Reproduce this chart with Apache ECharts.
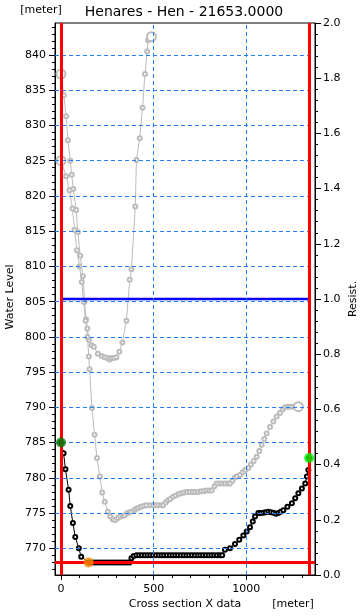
<!DOCTYPE html>
<html><head><meta charset="utf-8">
<script src="https://cdn.jsdelivr.net/npm/echarts@6/dist/echarts.min.js"></script>
<style>html,body{margin:0;padding:0;background:#fff}#c{width:361px;height:616px}</style>
</head><body><div id="c"></div>
<script>
// ---- ticks ----
const xTicks = [0, 500, 1000];
const xMinorTicks = [100, 200, 300, 400, 600, 700, 800, 900, 1100, 1200, 1300];
const yTicks = [770, 775, 780, 785, 790, 795, 800, 805, 810, 815, 820, 825, 830, 835, 840];
const yMinorTicks = [767, 768, 769, 771, 772, 773, 774, 776, 777, 778, 779, 781, 782, 783, 784,
  786, 787, 788, 789, 791, 792, 793, 794, 796, 797, 798, 799, 801, 802, 803, 804, 806, 807, 808, 809,
  811, 812, 813, 814, 816, 817, 818, 819, 821, 822, 823, 824, 826, 827, 828, 829, 831, 832, 833, 834,
  836, 837, 838, 839, 841, 842, 843, 844];
const xGridLines = [500, 1000];

// ---- data: [x (m), water level (m)] ----
const greyA = [[0,837.3],[15,834.3],[28,831.3],[37,827.9],[50,825.0],[58,823.0],[66,821.0],[82,818.0],
  [91,814.9],[104,811.5],[118,808.6],[127,805.0],[135,802.5],[142,801.2],[150,799.6],[165,798.8],
  [177,798.6],[199,797.6],[220,797.3],[235,797.1],[250,797.0],[262,796.8],[272,797.0],[285,797.0],
  [299,797.1],[315,797.9],[331,799.2],[353,802.3],[371,808.1],[380,809.6],[401,818.5],[407,825.1],
  [425,828.2],[440,832.5],[453,837.3],[465,840.5],[470,842.1],[478,842.4],[488,842.6]];
const greyB = [[0,825.0],[28,822.8],[46,820.8],[62,818.2],[73,815.2],[86,812.3],[100,810.0],[112,807.8],
  [122,805.0],[133,802.3],[143,800.0],[150,797.2],
  [154,795.4],[167,789.9],[181,786.1],[194,782.8],[210,780.2],[222,777.9],[236,776.6],[253,775.2],
  [266,774.5],[280,774.1],[293,774.0],[307,774.3],[320,774.5],[334,774.6],[344,774.7],[358,775.0],
  [370,775.1],[380,775.2],[395,775.4],[405,775.6],[416,775.7],[430,775.9],[445,776.0],[460,776.1],
  [479,776.1],[495,776.1],[510,776.1],[525,776.1],[540,776.1],[551,776.1],[565,776.5],[578,776.8],
  [590,777.0],[605,777.3],[620,777.5],[635,777.7],[650,777.8],[665,777.9],[680,778.0],[695,778.0],
  [710,778.0],[725,778.0],[740,778.0],[755,778.1],[770,778.1],[785,778.2],[800,778.2],[813,778.2],
  [828,778.8],[840,779.2],[855,779.2],[870,779.2],[885,779.2],[900,779.2],[912,779.2],[925,779.6],
  [937,780.0],[948,780.2],[966,780.4],[980,780.8],[995,781.1],[1011,781.4],[1025,781.9],[1040,782.4],
  [1056,783.0],[1070,783.8],[1083,784.7],[1097,785.5],[1110,786.3],[1128,787.2],[1146,788.0],
  [1164,788.7],[1182,789.2],[1196,789.7],[1209,790.0],[1222,790.1],[1236,790.1],[1250,790.1],
  [1264,790.1],[1281,790.1]];
const bed = [[0,785.0],[14,783.5],[24,781.2],[41,778.3],[50,776.0],[64,773.6],[77,771.6],[96,770.0],
  [109,768.8],[149,768.0],[160,768.0],[175,768.0],[190,768.0],[205,768.0],[220,768.0],[235,768.0],
  [250,768.0],[265,768.0],[280,768.0],[295,768.0],[310,768.0],[325,768.0],[340,768.0],[355,768.0],
  [370,768.0],[380,768.6],[392,768.9],[407,769.0],[422,769.0],[437,769.0],[452,769.0],[467,769.0],
  [482,769.0],[497,769.0],[512,769.0],[527,769.0],[542,769.0],[557,769.0],[572,769.0],[587,769.0],
  [602,769.0],[617,769.0],[632,769.0],[647,769.0],[662,769.0],[677,769.0],[692,769.0],[707,769.0],
  [722,769.0],[737,769.0],[752,769.0],[767,769.0],[782,769.0],[797,769.0],[812,769.0],[827,769.0],
  [842,769.0],[857,769.0],[870,769.0],[885,769.8],[912,770.0],[939,770.6],[962,771.2],[984,771.8],
  [1002,772.4],[1020,773.0],[1035,773.8],[1047,774.5],[1065,775.0],[1078,775.0],[1092,775.05],
  [1105,775.1],[1119,775.2],[1132,775.1],[1146,775.05],[1160,774.9],[1173,775.0],[1186,775.2],
  [1200,775.4],[1222,775.9],[1246,776.4],[1264,777.1],[1281,777.8],[1300,778.5],[1318,779.2],
  [1327,780.2],[1335,781.1],[1339,782.8]];
const leftBank = [0, 785.0];
const rightBank = [1339, 782.8];
const lowPoint = [149, 768.0];
const bankX = [0, 1339];
const waterLevel = 768.0;
const resist = [[0, 1.0], [1339, 1.0]];

const FONT = 'DejaVu Sans';
const X_MIN = -32.4, X_MAX = 1370.8, Y_MIN = 766.21, Y_MAX = 844.54;

function withEnds(arr, big) {
  return arr.map((p, i) => (i === 0 || i === arr.length - 1) ? { value: p, symbolSize: big } : p);
}

const chart = echarts.init(document.getElementById('c'), null, { renderer: 'canvas' });
const lbl = { color: '#000', fontFamily: FONT, fontSize: 11 };
chart.setOption({
  animation: false,
  backgroundColor: '#fff',
  grid: { left: 55, right: 46, top: 23, bottom: 41, show: true, borderColor: '#000', borderWidth: 1, backgroundColor: 'transparent' },
  xAxis: [
    { type: 'value', min: X_MIN, max: X_MAX, position: 'bottom',
      axisLine: { show: true, onZero: false, lineStyle: { color: '#000', width: 1 } },
      axisTick: { show: true, length: 5, customValues: xTicks, lineStyle: { color: '#000' } },
      axisLabel: Object.assign({ customValues: xTicks, margin: 9, formatter: v => String(v) }, lbl),
      splitLine: { show: false } },
    { type: 'value', min: X_MIN, max: X_MAX, position: 'bottom',
      axisLine: { show: false, onZero: false },
      axisTick: { show: true, length: 3, customValues: xMinorTicks, lineStyle: { color: '#000' } },
      axisLabel: { show: false }, splitLine: { show: false } }
  ],
  yAxis: [
    { type: 'value', min: Y_MIN, max: Y_MAX, position: 'left',
      axisLine: { show: true, onZero: false, lineStyle: { color: '#000' } },
      axisTick: { show: true, length: 6, customValues: yTicks, lineStyle: { color: '#000' } },
      axisLabel: Object.assign({ customValues: yTicks, margin: 9, formatter: v => String(v) }, lbl),
      splitLine: { show: false } },
    { type: 'value', min: 0, max: 2, interval: 0.2, position: 'right',
      axisLine: { show: true, onZero: false, lineStyle: { color: '#000' } },
      axisTick: { show: true, length: 6, lineStyle: { color: '#000' } },
      minorTick: { show: true, splitNumber: 5, length: 3, lineStyle: { color: '#000' } },
      axisLabel: Object.assign({ margin: 8, formatter: v => v.toFixed(1) }, lbl),
      splitLine: { show: false } },
    { type: 'value', min: Y_MIN, max: Y_MAX, position: 'left',
      axisLine: { show: false, onZero: false },
      axisTick: { show: true, length: 3, customValues: yMinorTicks, lineStyle: { color: '#000' } },
      axisLabel: { show: false }, splitLine: { show: false } }
  ],
  graphic: [
    { type: 'text', x: 184, y: 12, style: { text: 'Henares - Hen - 21653.0000', font: '14px "DejaVu Sans"', fill: '#000', align: 'center', verticalAlign: 'middle' } },
    { type: 'text', x: 41, y: 10, style: { text: '[meter]', font: '11px "DejaVu Sans"', fill: '#000', align: 'center', verticalAlign: 'middle' } },
    { type: 'text', x: 185, y: 604, style: { text: 'Cross section X data', font: '11px "DejaVu Sans"', fill: '#000', align: 'center', verticalAlign: 'middle' } },
    { type: 'text', x: 293, y: 604, style: { text: '[meter]', font: '11px "DejaVu Sans"', fill: '#000', align: 'center', verticalAlign: 'middle' } },
    { type: 'text', x: 10, y: 297, rotation: Math.PI / 2, style: { text: 'Water Level', font: '11px "DejaVu Sans"', fill: '#000', align: 'center', verticalAlign: 'middle' } },
    { type: 'text', x: 353, y: 299, rotation: Math.PI / 2, style: { text: 'Resist.', font: '11px "DejaVu Sans"', fill: '#000', align: 'center', verticalAlign: 'middle' } }
  ],
  series: [
    { type: 'line', name: 'grid', data: [], z: 1, silent: true,
      markLine: { silent: true, symbol: ['none', 'none'], label: { show: false },
        lineStyle: { color: '#1e7fff', width: 1, type: [4, 3] },
        data: yTicks.map(v => ({ yAxis: v })).concat(xGridLines.map(v => ({ xAxis: v }))) } },
    { type: 'line', name: 'greyA', data: withEnds(greyA, 9), z: 2, symbol: 'emptyCircle', symbolSize: 4,
      itemStyle: { color: '#bcbcbc', borderWidth: 1 }, lineStyle: { color: '#bcbcbc', width: 1 } },
    { type: 'line', name: 'greyB', data: withEnds(greyB, 9), z: 2, symbol: 'emptyCircle', symbolSize: 4,
      itemStyle: { color: '#bcbcbc', borderWidth: 1 }, lineStyle: { color: '#bcbcbc', width: 1 } },
    { type: 'line', name: 'resist', yAxisIndex: 1, data: resist, z: 3, symbol: 'none',
      lineStyle: { color: '#0000ff', width: 2.5 } },
    { type: 'line', name: 'limits', data: [], z: 3, silent: true,
      markLine: { silent: true, symbol: ['none', 'none'], label: { show: false },
        lineStyle: { color: '#ff0000', width: 3, type: 'solid' },
        data: bankX.map(v => ({ xAxis: v })).concat([{ yAxis: waterLevel }]) } },
    { type: 'line', name: 'bed', data: bed, z: 4, symbol: 'emptyCircle', symbolSize: 4,
      itemStyle: { color: '#000', borderWidth: 1 }, lineStyle: { color: '#000', width: 1 } },
    { type: 'scatter', data: [leftBank], z: 5, symbolSize: 10, itemStyle: { color: '#008000' } },
    { type: 'scatter', data: [rightBank], z: 5, symbolSize: 10, itemStyle: { color: '#00ee00' } },
    { type: 'scatter', data: [lowPoint], z: 5, symbolSize: 10, itemStyle: { color: '#ff8c00' } }
  ]
});
</script></body></html>
